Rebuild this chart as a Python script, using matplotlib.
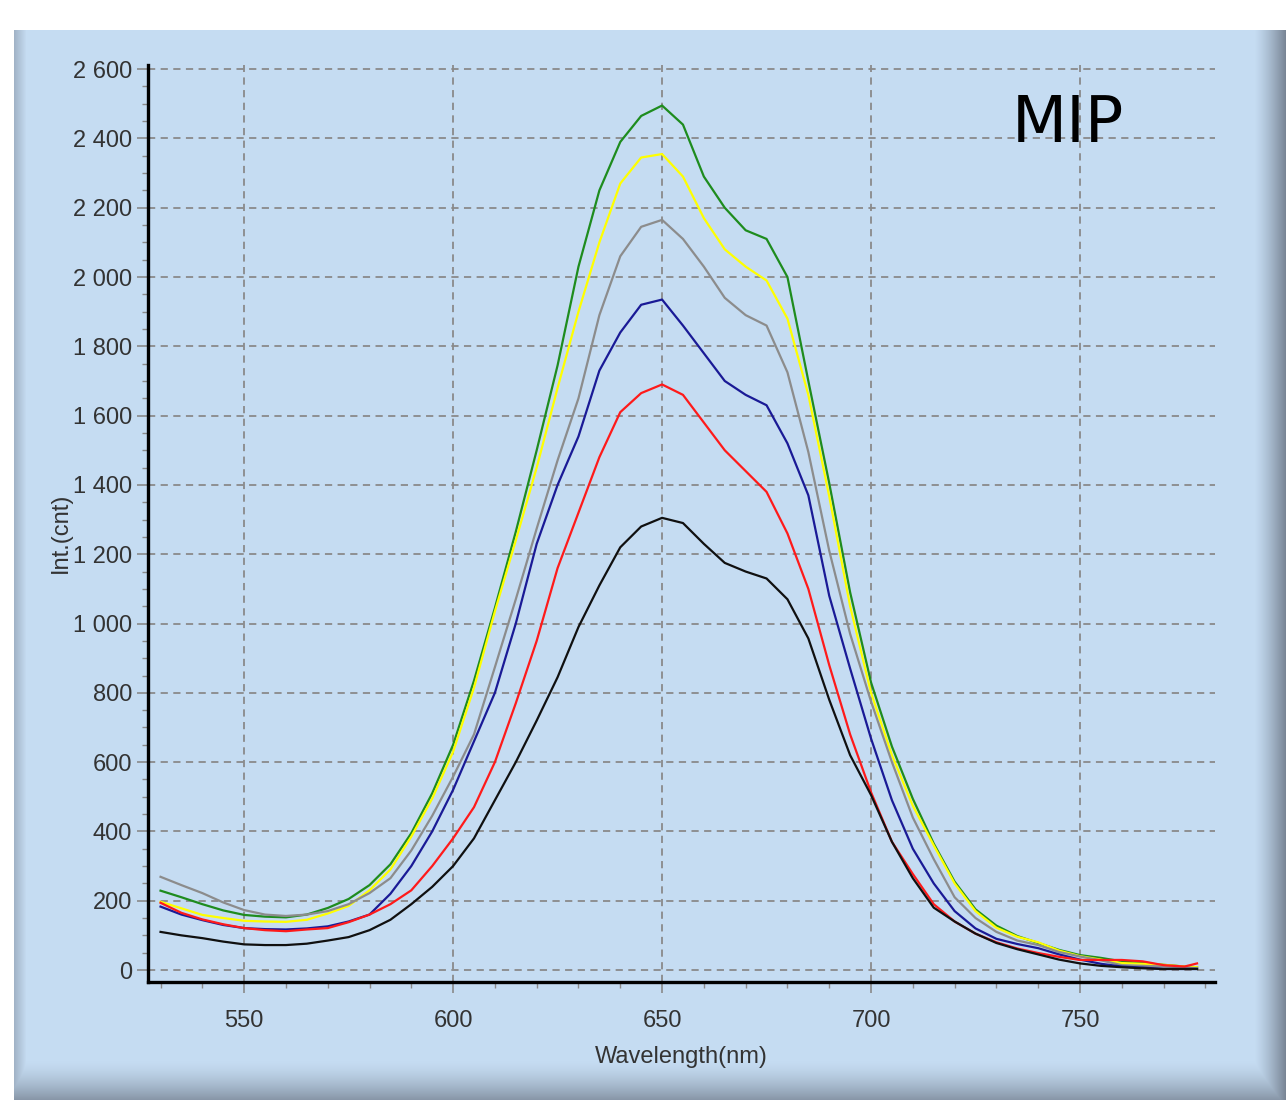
import numpy as np
import matplotlib
matplotlib.use("Agg")
import matplotlib.pyplot as plt
from matplotlib.ticker import MultipleLocator, FuncFormatter

# wavelengths (nm) the curves were read at
wl = [530, 535, 540, 545, 550, 555, 560, 565, 570, 575, 580, 585, 590, 595,
      600, 605, 610, 615, 620, 625, 630, 635, 640, 645, 650, 655, 660, 665,
      670, 675, 680, 685, 690, 695, 700, 705, 710, 715, 720, 725, 730, 735,
      740, 745, 750, 755, 760, 765, 770, 775, 778]

green = [229, 210, 190, 172, 159, 154, 152, 160, 179, 205, 245, 305, 395, 510,
         650, 835, 1045, 1265, 1500, 1745, 2030, 2250, 2390, 2465, 2495, 2440, 2290, 2200,
         2135, 2110, 2000, 1700, 1405, 1090, 830, 645, 494, 365, 255, 175, 128, 98,
         78, 58, 43, 35, 25, 20, 15, 10, 8]
yellow = [197, 178, 159, 150, 142, 140, 139, 145, 163, 185, 230, 290, 385, 495,
          630, 815, 1035, 1240, 1450, 1680, 1900, 2100, 2270, 2345, 2355, 2290, 2170, 2080,
          2030, 1990, 1880, 1660, 1367, 1050, 800, 620, 474, 360, 250, 170, 122, 96,
          80, 56, 40, 30, 20, 18, 15, 10, 8]
gray = [269, 245, 222, 195, 173, 160, 156, 160, 170, 190, 222, 265, 345, 445,
        558, 680, 874, 1070, 1274, 1471, 1650, 1890, 2060, 2145, 2165, 2110, 2030, 1940,
        1890, 1860, 1725, 1495, 1210, 970, 775, 600, 440, 320, 210, 150, 110, 85,
        72, 52, 39, 28, 14, 12, 10, 8, 5]
blue = [183, 160, 144, 130, 121, 118, 117, 120, 126, 140, 160, 220, 300, 400,
        520, 660, 800, 1000, 1230, 1400, 1540, 1730, 1840, 1920, 1935, 1860, 1780, 1700,
        1660, 1630, 1520, 1370, 1080, 870, 668, 490, 350, 250, 170, 120, 90, 75,
        63, 45, 30, 18, 10, 7, 3, 3, 3]
red = [194, 165, 146, 132, 121, 115, 112, 117, 121, 138, 160, 190, 230, 300,
       380, 470, 600, 770, 950, 1160, 1320, 1480, 1610, 1665, 1690, 1660, 1580, 1500,
       1440, 1380, 1260, 1100, 880, 680, 513, 370, 277, 190, 140, 105, 80, 62,
       49, 38, 29, 29, 29, 25, 14, 10, 19]
black = [110, 100, 92, 82, 74, 72, 72, 76, 85, 95, 115, 145, 190, 240,
         300, 380, 490, 600, 720, 845, 990, 1110, 1220, 1280, 1305, 1290, 1230, 1175,
         1150, 1130, 1070, 957, 780, 620, 505, 370, 265, 180, 140, 105, 78, 60,
         45, 30, 19, 12, 8, 5, 3, 3, 3]

series = [green, yellow, gray, blue, red, black]
colors = ['#1e8c1e', '#ffff00', '#8c8c8c', '#1a1a96', '#ff1a1a', '#101010']

W, H = 1286, 1104
fig = plt.figure(figsize=(W / 100, H / 100), dpi=100)

# panel background: light blue with shaded bevel on left, right and bottom
blue_bg = np.array([197, 220, 242]) / 255.0
edge = np.array([118, 130, 146]) / 255.0
xx, yy = np.meshgrid(np.arange(W), np.arange(H))
left_t = np.clip(1 - (xx - 14) / 12, 0, 1) * 0.45
right_t = np.clip((xx - (W - 32)) / 32, 0, 1) ** 1.3
bottom_t = np.clip((yy - 1060) / 40, 0, 1) ** 1.5 * 0.8
shade = np.maximum(np.maximum(left_t, right_t), bottom_t)[..., None]
bg = blue_bg * (1 - shade) + edge * shade
inside = (xx >= 14) & (yy >= 30) & (yy < 1100)
bg[~inside] = 1.0
bax = fig.add_axes([0, 0, 1, 1], zorder=-1)
bax.imshow(bg, aspect='auto')
bax.axis('off')

ax = fig.add_axes([148 / W, 1 - 982 / H, (1215 - 148) / W, (982 - 65) / H])
ax.patch.set_alpha(0)

for y, c in zip(series, colors):
    ax.plot(wl, y, color=c, lw=1.6)

ax.set_xlim(527, 782.3)
ax.set_ylim(-34.6, 2612)

ax.xaxis.set_major_locator(MultipleLocator(50))
ax.xaxis.set_minor_locator(MultipleLocator(10))
ax.yaxis.set_major_locator(MultipleLocator(200))
ax.yaxis.set_minor_locator(MultipleLocator(50))
ax.yaxis.set_major_formatter(FuncFormatter(lambda v, p: f"{v:,.0f}".replace(',', ' ')))

ax.grid(True, which='major', color='#8a8a8a', linestyle=(0, (4, 3)), lw=1.3)
for s in ['top', 'right']:
    ax.spines[s].set_visible(False)
for s in ['left', 'bottom']:
    ax.spines[s].set_linewidth(2.4)
    ax.spines[s].set_color('black')

fam = ['Liberation Sans', 'DejaVu Sans']
ax.tick_params(which='major', length=8, width=1.2, color='#8a8a8a',
               labelsize=17, labelcolor='#333333')
ax.tick_params(which='minor', length=4, width=1, color='#8a8a8a')
ax.tick_params(axis='x', which='major', pad=12)
for lab in ax.get_xticklabels() + ax.get_yticklabels():
    lab.set_family(fam)

ax.set_xlabel('Wavelength(nm)', fontsize=17, family=fam, color='#333333')
ax.xaxis.set_label_coords(0.5, -0.07)
ax.set_ylabel('Int.(cnt)', fontsize=17, family=fam, color='#333333')
ax.yaxis.set_label_coords(-0.071, 0.49)

fig.text(1068 / W, 1 - 124 / H, 'MIP', fontsize=46, ha='center', va='center',
         family='DejaVu Sans', color='black')

fig.savefig('out.png', dpi=100)
